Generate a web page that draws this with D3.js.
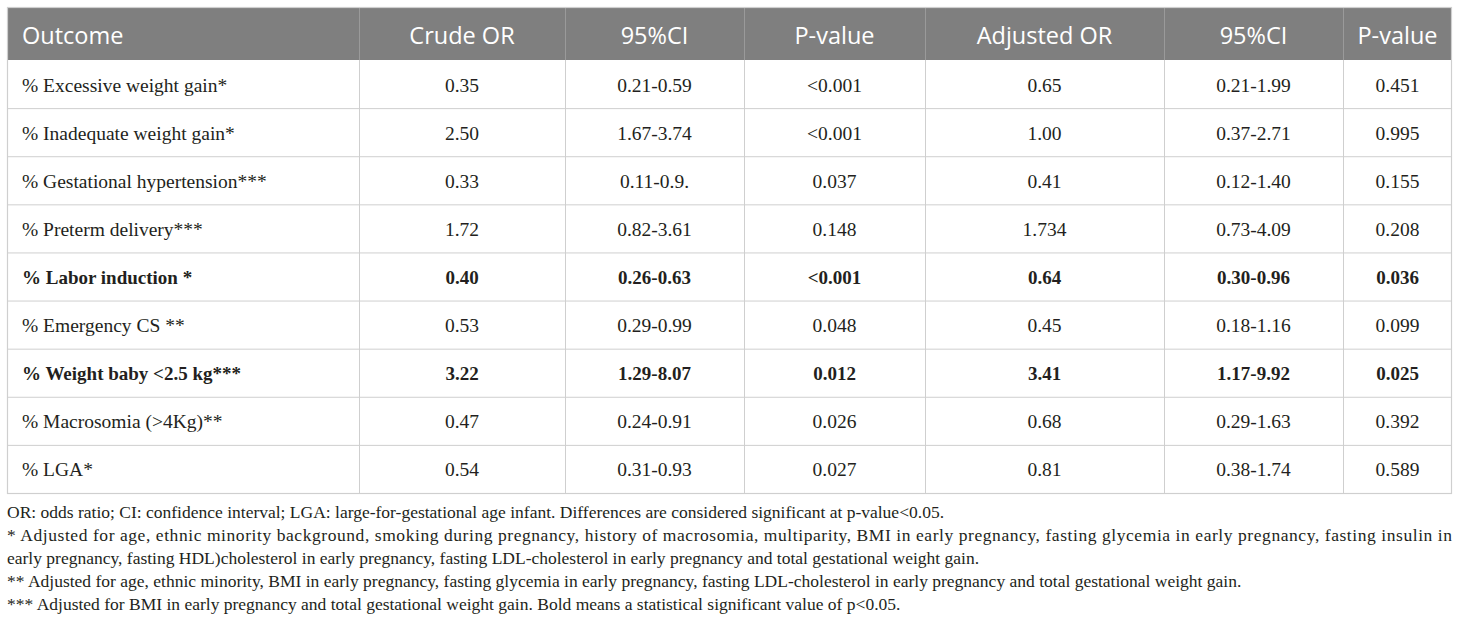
<!DOCTYPE html>
<html>
<head>
<meta charset="utf-8">
<script src="https://cdn.jsdelivr.net/npm/d3@7/dist/d3.min.js"></script>
<style>
  body { margin: 0; background: #fff; }
  svg { display: block; }
</style>
</head>
<body>
<svg id="chart" width="1460" height="630"></svg>
<script>
// table data
const headers = ['Outcome', 'Crude OR', '95%CI', 'P-value', 'Adjusted OR', '95%CI', 'P-value'];
const outcomes = [
  '% Excessive weight gain*',
  '% Inadequate weight gain*',
  '% Gestational hypertension***',
  '% Preterm delivery***',
  '% Labor induction *',
  '% Emergency CS **',
  '% Weight baby <2.5 kg***',
  '% Macrosomia (>4Kg)**',
  '% LGA*'
];
const crudeOR = ['0.35', '2.50', '0.33', '1.72', '0.40', '0.53', '3.22', '0.47', '0.54'];
const crudeCI = ['0.21-0.59', '1.67-3.74', '0.11-0.9.', '0.82-3.61', '0.26-0.63', '0.29-0.99', '1.29-8.07', '0.24-0.91', '0.31-0.93'];
const crudeP = ['<0.001', '<0.001', '0.037', '0.148', '<0.001', '0.048', '0.012', '0.026', '0.027'];
const adjOR = ['0.65', '1.00', '0.41', '1.734', '0.64', '0.45', '3.41', '0.68', '0.81'];
const adjCI = ['0.21-1.99', '0.37-2.71', '0.12-1.40', '0.73-4.09', '0.30-0.96', '0.18-1.16', '1.17-9.92', '0.29-1.63', '0.38-1.74'];
const adjP = ['0.451', '0.995', '0.155', '0.208', '0.036', '0.099', '0.025', '0.392', '0.589'];
const boldRows = [false, false, false, false, true, false, true, false, false];
const footnotes = [
  'OR: odds ratio; CI: confidence interval; LGA: large-for-gestational age infant. Differences are considered significant at p-value<0.05.',
  '* Adjusted for age, ethnic minority background, smoking during pregnancy, history of macrosomia, multiparity, BMI in early pregnancy, fasting glycemia in early pregnancy, fasting insulin in',
  'early pregnancy, fasting HDL)cholesterol in early pregnancy, fasting LDL-cholesterol in early pregnancy and total gestational weight gain.',
  '** Adjusted for age, ethnic minority, BMI in early pregnancy, fasting glycemia in early pregnancy, fasting LDL-cholesterol in early pregnancy and total gestational weight gain.',
  '*** Adjusted for BMI in early pregnancy and total gestational weight gain. Bold means a statistical significant value of p<0.05.'
];
// wrapped (justified) footnote lines
const justified = [false, true, false, false, false];

// layout
const colEdges = [7, 359, 565, 744, 925, 1164, 1343, 1452];
const headTop = 7, headBottom = 60, tableBottom = 493;
const gridColor = '#cfcfcf';

const svg = d3.select('#chart');

const rows = outcomes.map((o, i) => ({
  cells: [o, crudeOR[i], crudeCI[i], crudeP[i], adjOR[i], adjCI[i], adjP[i]],
  bold: boldRows[i],
  key: o
}));

const y = d3.scaleBand()
  .domain(outcomes)
  .range([headBottom, tableBottom]);

const col = d3.scaleOrdinal()
  .domain(d3.range(headers.length))
  .range(d3.range(headers.length).map((i) => [colEdges[i], colEdges[i + 1]]));

const cellX = (i) => i === 0 ? col(i)[0] + 15 : (col(i)[0] + col(i)[1]) / 2;

/* header */
svg.append('rect')
  .attr('x', colEdges[0])
  .attr('y', headTop)
  .attr('width', colEdges[colEdges.length - 1] - colEdges[0])
  .attr('height', headBottom - headTop)
  .attr('fill', '#7f7f7f');

svg.append('g')
  .selectAll('line')
  .data(colEdges.slice(1, -1))
  .enter().append('line')
  .attr('x1', (d) => d + 0.5)
  .attr('x2', (d) => d + 0.5)
  .attr('y1', headTop)
  .attr('y2', headBottom)
  .attr('stroke', '#9a9a9a');

svg.append('g')
  .selectAll('text')
  .data(headers)
  .enter().append('text')
  .attr('x', (d, i) => cellX(i))
  .attr('y', (headTop + headBottom) / 2 + 1)
  .attr('text-anchor', (d, i) => i === 0 ? 'start' : 'middle')
  .attr('dominant-baseline', 'central')
  .attr('fill', '#fff')
  .style('font-family', '"Open Sans", sans-serif')
  .style('font-size', '23.5px')
  .text((d) => d);

/* body grid */
const grid = svg.append('g').attr('stroke', gridColor).attr('fill', 'none');
grid.selectAll('line.h')
  .data(outcomes.slice(1))
  .enter().append('line')
  .attr('class', 'h')
  .attr('x1', colEdges[0])
  .attr('x2', colEdges[colEdges.length - 1])
  .attr('y1', (d) => y(d) + 0.5)
  .attr('y2', (d) => y(d) + 0.5);

grid.selectAll('line.v')
  .data(colEdges.slice(1, -1))
  .enter().append('line')
  .attr('class', 'v')
  .attr('x1', (d) => d + 0.5)
  .attr('x2', (d) => d + 0.5)
  .attr('y1', headBottom)
  .attr('y2', tableBottom);

grid.append('rect')
  .attr('x', colEdges[0] + 0.5)
  .attr('y', headTop + 0.5)
  .attr('width', colEdges[colEdges.length - 1] - colEdges[0] - 1)
  .attr('height', tableBottom - headTop)
  .attr('stroke-width', 1.2);

/* body cells */
const rowG = svg.append('g')
  .selectAll('g')
  .data(rows, (d) => d.key)
  .enter().append('g')
  .attr('transform', (d) => `translate(0,${y(d.key) + y.bandwidth() / 2})`);

rowG.selectAll('text')
  .data((d) => d.cells.map((c, i) => ({ text: c, i, bold: d.bold })))
  .enter().append('text')
  .attr('x', (d) => cellX(d.i))
  .attr('y', 1)
  .attr('text-anchor', (d) => d.i === 0 ? 'start' : 'middle')
  .attr('dominant-baseline', 'central')
  .attr('fill', '#231f20')
  .style('font-family', '"Liberation Serif", serif')
  .style('font-size', (d) => d.bold ? '19px' : '19.5px')
  .style('font-weight', (d) => d.bold ? 'bold' : 'normal')
  .text((d) => d.text);

/* footnotes */
svg.append('g')
  .selectAll('text')
  .data(footnotes)
  .enter().append('text')
  .attr('x', 7)
  .attr('y', (d, i) => 512 + i * 23)
  .attr('dominant-baseline', 'central')
  .attr('fill', '#231f20')
  .style('font-family', '"Liberation Serif", serif')
  .style('font-size', '17.5px')
  .each(function (d, i) {
    if (justified[i]) {
      d3.select(this).attr('textLength', 1445).attr('lengthAdjust', 'spacing');
    }
  })
  .text((d) => d);
</script>
</body>
</html>
